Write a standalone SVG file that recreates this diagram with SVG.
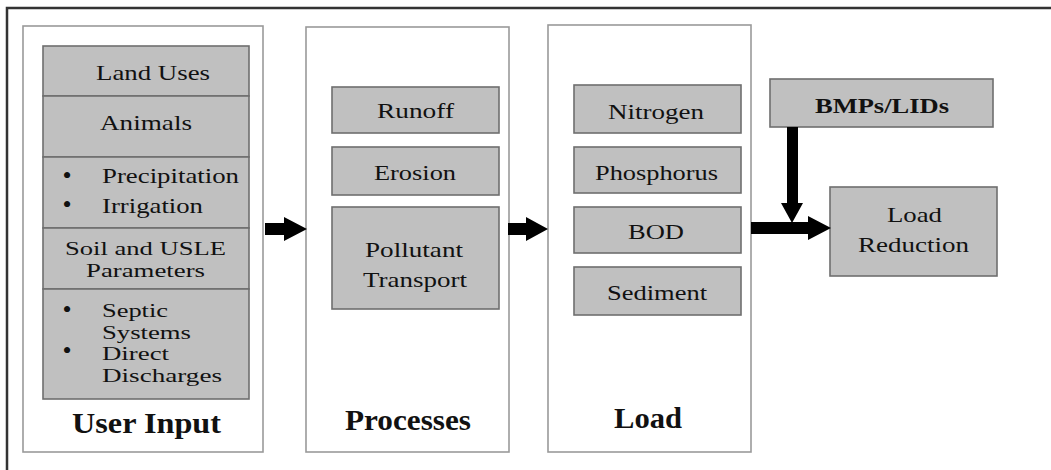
<svg xmlns="http://www.w3.org/2000/svg" width="1051" height="470" viewBox="0 0 1051 470">
<style>
.panel{fill:#fff;stroke:#9a9a9a;stroke-width:1.6}
.box{fill:#c0c0c0;stroke:#6e6e6e;stroke-width:1.6}
text{font-family:"Liberation Serif","Times New Roman",serif;font-size:22px;fill:#111}
.s{font-size:19px}
.dot{font-size:26px}
.b{font-weight:bold;font-size:29px}
.bm{font-weight:bold;font-size:22px}
.arrow{fill:#000}
</style>
<rect width="1051" height="470" fill="#fff"/>
<path d="M7,470 V8 H1051" fill="none" stroke="#333" stroke-width="2.5"/>
<g id="user-input">
<rect class="panel" x="23" y="26" width="240" height="426"/>
<text class="b" x="72" y="433" textLength="149" lengthAdjust="spacingAndGlyphs">User Input</text>
</g>
<g id="land-uses"><rect class="box" x="43" y="46" width="206" height="50"/><text x="96" y="80" textLength="114" lengthAdjust="spacingAndGlyphs">Land Uses</text></g>
<g id="animals"><rect class="box" x="43" y="96" width="206" height="61"/><text x="100" y="130" textLength="92" lengthAdjust="spacingAndGlyphs">Animals</text></g>
<g id="weather"><rect class="box" x="43" y="157" width="206" height="71"/>
<text class="dot" x="67" y="184" text-anchor="middle">•</text><text x="102" y="183" textLength="137" lengthAdjust="spacingAndGlyphs">Precipitation</text>
<text class="dot" x="67" y="213" text-anchor="middle">•</text><text x="102" y="213" textLength="101" lengthAdjust="spacingAndGlyphs">Irrigation</text></g>
<g id="soil"><rect class="box" x="43" y="228" width="206" height="61"/><text class="s" x="65" y="255" textLength="161" lengthAdjust="spacingAndGlyphs">Soil and USLE</text><text class="s" x="86" y="277" textLength="119" lengthAdjust="spacingAndGlyphs">Parameters</text></g>
<g id="septic"><rect class="box" x="43" y="289" width="206" height="110"/>
<text class="dot" x="67" y="318" text-anchor="middle">•</text><text class="s" x="102" y="317" textLength="66" lengthAdjust="spacingAndGlyphs">Septic</text>
<text class="s" x="102" y="339" textLength="89" lengthAdjust="spacingAndGlyphs">Systems</text>
<text class="dot" x="67" y="359" text-anchor="middle">•</text><text class="s" x="102" y="360" textLength="67" lengthAdjust="spacingAndGlyphs">Direct</text>
<text class="s" x="102" y="382" textLength="120" lengthAdjust="spacingAndGlyphs">Discharges</text></g>
<g id="processes">
<rect class="panel" x="306" y="27" width="203" height="425"/>
<text class="b" x="345" y="430" textLength="126" lengthAdjust="spacingAndGlyphs">Processes</text>
</g>
<g id="runoff"><rect class="box" x="332" y="87" width="167" height="46"/><text x="377" y="118" textLength="77" lengthAdjust="spacingAndGlyphs">Runoff</text></g>
<g id="erosion"><rect class="box" x="332" y="147" width="167" height="48"/><text x="374" y="180" textLength="82" lengthAdjust="spacingAndGlyphs">Erosion</text></g>
<g id="pollutant-transport"><rect class="box" x="332" y="207" width="167" height="102"/><text x="365" y="257" textLength="98" lengthAdjust="spacingAndGlyphs">Pollutant</text><text x="363" y="287" textLength="104" lengthAdjust="spacingAndGlyphs">Transport</text></g>
<g id="load">
<rect class="panel" x="548" y="25" width="203" height="427"/>
<text class="b" x="614" y="428" textLength="68" lengthAdjust="spacingAndGlyphs">Load</text>
</g>
<g id="nitrogen"><rect class="box" x="574" y="85" width="167" height="48"/><text x="608" y="119" textLength="96" lengthAdjust="spacingAndGlyphs">Nitrogen</text></g>
<g id="phosphorus"><rect class="box" x="574" y="147" width="167" height="46"/><text x="595" y="180" textLength="123" lengthAdjust="spacingAndGlyphs">Phosphorus</text></g>
<g id="bod"><rect class="box" x="574" y="207" width="167" height="46"/><text x="628" y="239" textLength="56" lengthAdjust="spacingAndGlyphs">BOD</text></g>
<g id="sediment"><rect class="box" x="574" y="267" width="167" height="48"/><text x="607" y="300" textLength="100" lengthAdjust="spacingAndGlyphs">Sediment</text></g>
<g id="bmps"><rect class="box" x="770" y="79" width="223" height="48"/><text class="bm" x="815" y="113" textLength="134" lengthAdjust="spacingAndGlyphs">BMPs/LIDs</text></g>
<g id="load-reduction"><rect class="box" x="830" y="187" width="167" height="89"/><text x="887" y="222" textLength="55" lengthAdjust="spacingAndGlyphs">Load</text><text x="858" y="252" textLength="111" lengthAdjust="spacingAndGlyphs">Reduction</text></g>
<g id="connectors">
<polygon class="arrow" points="265,223 284,223 284,217 307,229 284,241 284,235 265,235"/>
<polygon class="arrow" points="508,223 526,223 526,217 548,229 526,241 526,235 508,235"/>
<polygon class="arrow" points="751,222 808,222 808,216 831,228 808,240 808,234 751,234"/>
<polygon class="arrow" points="787,127 798,127 798,203 803,203 792,223 781,203 787,203"/>
</g>
</svg>
